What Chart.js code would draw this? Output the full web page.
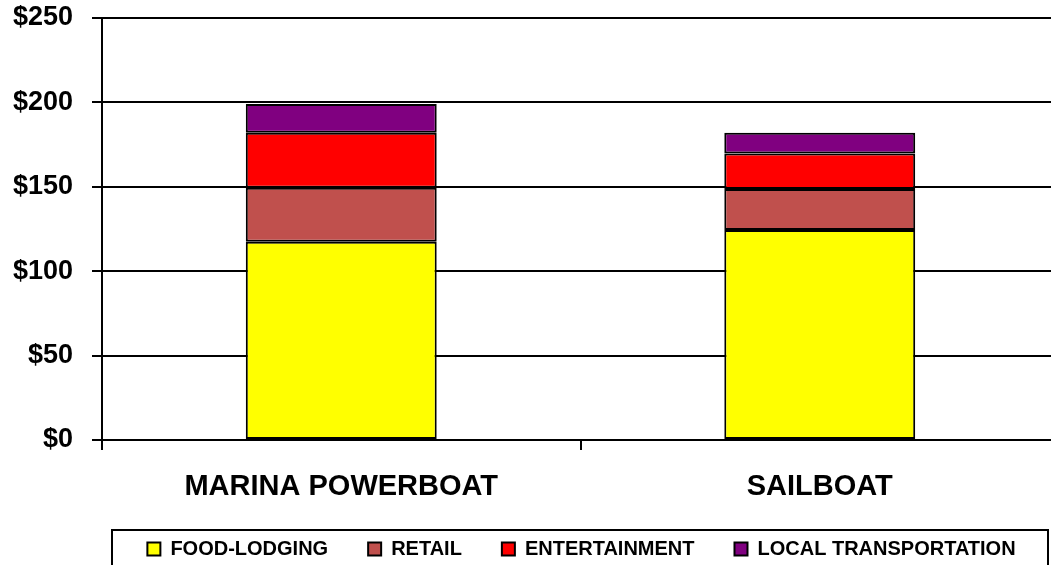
<!DOCTYPE html>
<html>
<head>
<meta charset="utf-8">
<script src="https://cdn.jsdelivr.net/npm/chart.js@4"></script>
<style>
  html, body { margin: 0; padding: 0; background: #fff; }
  #wrap { width: 1051px; height: 565px; }
</style>
</head>
<body>
<div id="wrap"><canvas id="boatChart" width="1051" height="565"></canvas></div>
<script>
// values (dollars per visitor)
const categories = ['MARINA POWERBOAT', 'SAILBOAT'];
const foodLodging = [117.5, 124.4];
const retail = [32, 24.3];
const entertainment = [32.5, 21.1];
const localTransportation = [17, 12.2];
const yTicks = [0, 50, 100, 150, 200, 250];

const FONT = "'Liberation Sans', Arial, sans-serif";

// the plot in the reference runs a little past the right edge;
// also moves the legend to where the reference has it and draws its frame
const legendFrame = {
    id: 'legendFrame',
    afterLayout(chart) {
        const x = chart.scales.x;
        x.right = 1059;
        x.width = x.right - x.left;
        x.configure();
        chart.chartArea.right = 1059;
        chart.chartArea.width = chart.chartArea.right - chart.chartArea.left;

        const lg = chart.legend;
        if (!lg) return;
        const dx = 56;
        const h = lg.bottom - lg.top;
        lg.left += dx;
        lg.right += dx;
        lg.top = 499;
        lg.bottom = 499 + h;
    },
    afterDraw(chart) {
        const ctx = chart.ctx;
        ctx.save();
        ctx.strokeStyle = '#000';
        ctx.lineWidth = 2;
        ctx.strokeRect(112, 530, 936, 80);
        ctx.restore();
    }
};

function series(label, data, color) {
    return {
        label: label,
        data: data,
        backgroundColor: color,
        borderColor: '#000',
        borderWidth: 2,
        borderSkipped: false,
        categoryPercentage: 1,
        barPercentage: 0.399
    };
}

new Chart(document.getElementById('boatChart'), {
    type: 'bar',
    data: {
        labels: categories,
        datasets: [
            series('FOOD-LODGING', foodLodging, '#FFFF00'),
            series('RETAIL', retail, '#C0504D'),
            series('ENTERTAINMENT', entertainment, '#FF0000'),
            series('LOCAL TRANSPORTATION', localTransportation, '#800080')
        ]
    },
    options: {
        responsive: false,
        animation: false,
        devicePixelRatio: 1,
        layout: { padding: { top: 18, right: 0, left: 0, bottom: -15 } },
        plugins: {
            tooltip: { enabled: false },
            legend: {
                position: 'bottom',
                labels: {
                    color: '#000',
                    font: { family: FONT, size: 20, weight: 'bold' },
                    boxWidth: 13,
                    boxHeight: 13,
                    padding: 40
                }
            }
        },
        scales: {
            x: {
                stacked: true,
                grid: {
                    offset: true,
                    drawOnChartArea: false,
                    drawTicks: true,
                    tickLength: 10,
                    color: '#000',
                    lineWidth: 2
                },
                border: { color: '#000', width: 2 },
                ticks: {
                    color: '#000',
                    padding: 20,
                    maxRotation: 0,
                    font: { family: FONT, size: 29, weight: 'bold' }
                },
                afterFit(scale) { scale.height = 70; }
            },
            y: {
                stacked: true,
                min: 0,
                max: 250,
                afterBuildTicks(scale) {
                    scale.ticks = yTicks.map(v => ({ value: v }));
                },
                grid: {
                    color: '#000',
                    lineWidth: 2,
                    tickLength: 10
                },
                border: { color: '#000', width: 2 },
                ticks: {
                    color: '#000',
                    padding: 19,
                    font: { family: FONT, size: 27, weight: 'bold' },
                    callback: v => '$' + v
                },
                afterFit(scale) {
                    scale.width = 102;
                    scale.paddingTop = 0;
                    scale.paddingBottom = 0;
                }
            }
        }
    },
    plugins: [legendFrame]
});
</script>
</body>
</html>
